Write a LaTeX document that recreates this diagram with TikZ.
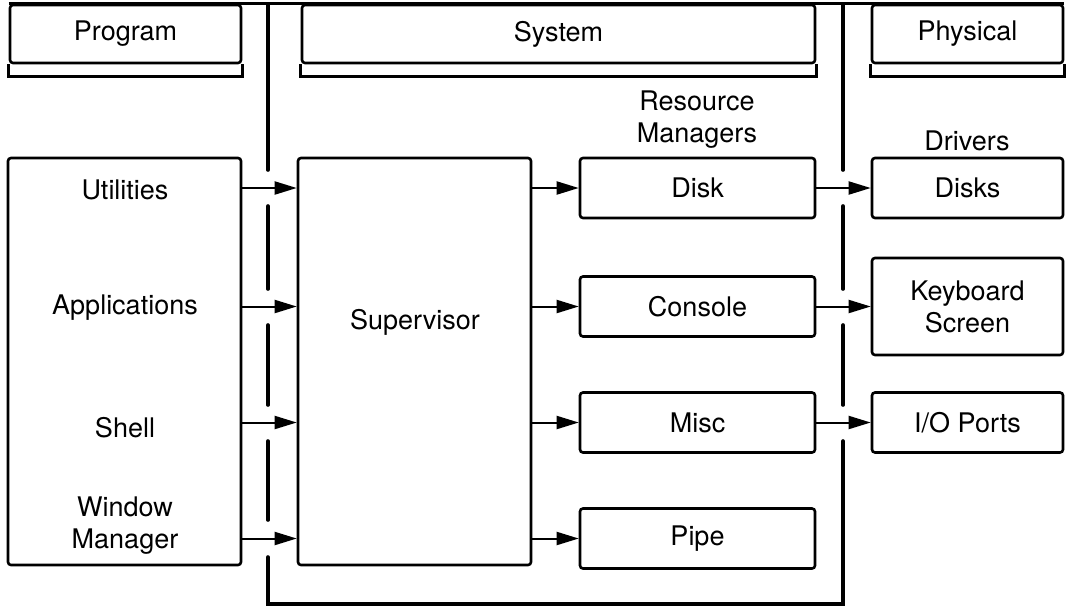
\documentclass[tikz,border=0pt]{standalone}
\usepackage{fontspec}
\setmainfont{TeX Gyre Heros}
\usetikzlibrary{arrows.meta}

\begin{document}
\begin{tikzpicture}[x=0.5pt,y=-0.5pt,
  font=\fontsize{13.5}{16}\selectfont,
  box/.style={draw, line width=1.3pt, rounded corners=1.5pt, inner sep=0pt, align=center},
  sep/.style={line width=1.8pt, line cap=round},
  arr/.style={line width=1pt, -{Triangle[length=11pt,width=6.5pt]}}]
\useasboundingbox (0,0) rectangle (1070,606);
% header row
\node[box, minimum width=115.5pt, minimum height=29pt] (hprog) at (125.5,34) {Program};
\node[box, minimum width=256.5pt, minimum height=29pt] (hsys) at (558.5,34) {System};
\node[box, minimum width=95.5pt, minimum height=29pt] (hphys) at (967.5,34) {Physical};
\draw[line width=1.3pt] (hprog.north west) -- (hphys.north east);
\foreach \h in {hprog,hsys,hphys}
  \draw[line width=1.3pt] (\h.south west) -- ++(0,12) -| (\h.south east);
% separators
\draw[sep] (268,5) -- (268,170);
\foreach \a/\b in {206/289, 325/405, 441/520}
  \draw[sep] (268,\a) -- (268,\b);
\draw[sep] (268,557) -- (268,604) -- (843,604) -- (843,441);
\draw[sep] (843,5) -- (843,170);
\foreach \a/\b in {206/289, 325/405}
  \draw[sep] (843,\a) -- (843,\b);
% program side
\node[box, minimum width=116.5pt, minimum height=203.5pt] (progbox) at (124.5,361.5) {};
\node (util) at (125,190) {Utilities};
\node (appl) at (125,308) {Applications};
\node (shell) at (125,428) {Shell};
\node[align=center] (winmgr) at (125,526) {Window\\Manager};
% supervisor
\node[box, minimum width=116.5pt, minimum height=203.5pt] (super) at (414.5,361.5) {};
\node (suplabel) at (415,322) {Supervisor};
% resource managers
\node[align=center] (rmlabel) at (697,120) {Resource\\Managers};
\node[box, minimum width=117.5pt, minimum height=30pt] (disk) at (697.5,188) {Disk};
\node[box, minimum width=117.5pt, minimum height=30pt] (console) at (697.5,306.5) {Console};
\node[box, minimum width=117.5pt, minimum height=30pt] (misc) at (697.5,422.5) {Misc};
\node[box, minimum width=117.5pt, minimum height=30pt] (pipe) at (697.5,538.5) {Pipe};
% drivers
\node (drvlabel) at (967,141) {Drivers};
\node[box, minimum width=95.5pt, minimum height=30pt] (disks) at (967.5,188) {Disks};
\node[box, minimum width=95.5pt, minimum height=48.5pt] (keybd) at (967.5,306.5) {Keyboard\\Screen};
\node[box, minimum width=95.5pt, minimum height=30pt] (ioports) at (967.5,422.5) {I/O Ports};
% arrows
\foreach \n in {disk,console,misc,pipe} {
  \draw[arr] (\n.west -| progbox.east) -- (\n.west -| super.west);
  \draw[arr] (\n.west -| super.east) -- (\n.west);
}
\draw[arr] (disk.east) -- (disks.west);
\draw[arr] (console.east) -- (console.east -| keybd.west);
\draw[arr] (misc.east) -- (ioports.west);
\end{tikzpicture}
\end{document}
